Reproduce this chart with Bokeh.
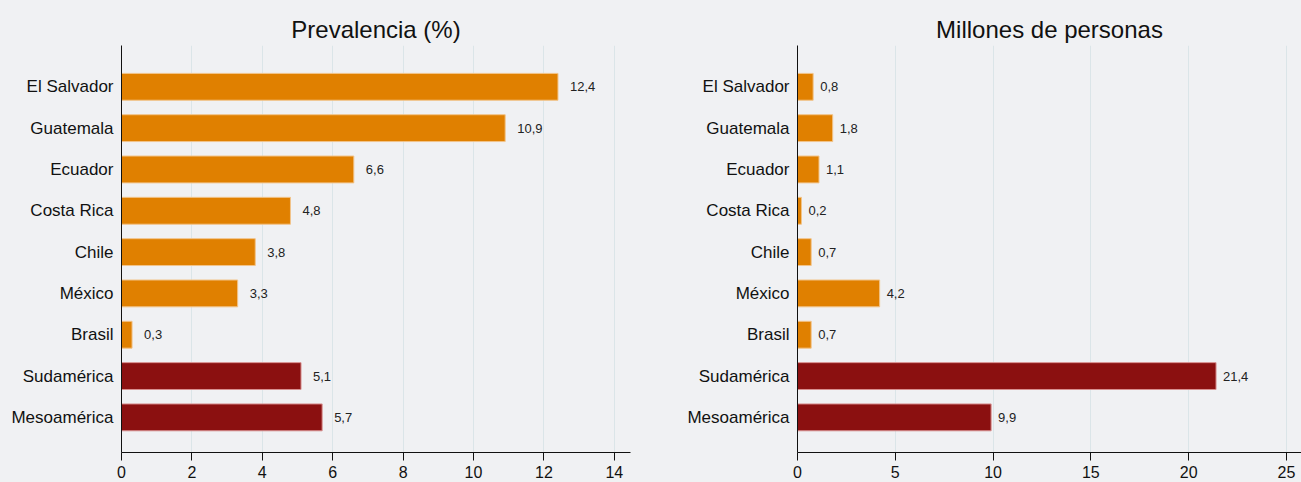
from bokeh.plotting import figure
from bokeh.layouts import row
from bokeh.models import Range1d, FixedTicker, ColumnDataSource
from bokeh.embed import file_html
from bokeh.resources import INLINE

categories = ["El Salvador", "Guatemala", "Ecuador", "Costa Rica", "Chile",
              "México", "Brasil", "Sudamérica", "Mesoamérica"]
prevalencia = [12.4, 10.9, 6.6, 4.8, 3.8, 3.3, 0.3, 5.1, 5.7]
millones = [0.8, 1.8, 1.1, 0.2, 0.7, 4.2, 0.7, 21.4, 9.9]
is_region = [False, False, False, False, False, False, False, True, True]
ticks_prev = [0, 2, 4, 6, 8, 10, 12, 14]
ticks_mill = [0, 5, 10, 15, 20, 25]

ORANGE = "#e08000"
DARKRED = "#8b1010"
BG = "#f0f1f3"
FONT = "Liberation Sans"

ypos = [len(categories) - 1 - i for i in range(len(categories))]
colors = [DARKRED if r else ORANGE for r in is_region]
edge = ["#d88f8f" if r else "#f2c48a" for r in is_region]


def fmt(v):
    return f"{v:.1f}".replace(".", ",")


def make(title, values, xmax, ticks, width, left, right, label_off):
    src = ColumnDataSource(dict(y=ypos, v=values, c=colors, e=edge,
                                lab=[fmt(v) for v in values]))
    p = figure(width=width, height=482, output_backend="svg", toolbar_location=None,
               x_range=Range1d(0, xmax), y_range=Range1d(-0.85, 9.0),
               min_border_left=left, min_border_right=right,
               min_border_top=45, min_border_bottom=30, title=title)
    p.background_fill_color = BG
    p.border_fill_color = BG
    p.outline_line_color = None
    p.title.align = "center"
    p.title.text_font = FONT
    p.title.text_font_size = "24px"
    p.title.text_font_style = "normal"
    p.title.text_color = "#111111"
    p.title.standoff = 6
    p.hbar(y="y", right="v", left=0, height=0.65, fill_color="c", line_color="e",
           line_width=1, source=src)
    p.text(x="v", y="y", text="lab", x_offset=label_off, text_baseline="middle",
           text_align="left", text_font_size="13px", text_color="#222222",
           text_font={"value": FONT}, source=src)
    p.xgrid.grid_line_color = "#dbe5e8"
    p.ygrid.grid_line_color = None
    p.xaxis.ticker = FixedTicker(ticks=ticks)
    p.xaxis.minor_tick_line_color = None
    p.xaxis.major_tick_out = 8
    p.xaxis.major_tick_in = 0
    p.xaxis.major_label_standoff = 5
    p.xaxis.major_label_text_font = FONT
    p.xaxis.major_label_text_font_size = "16px"
    p.xaxis.major_label_text_color = "#111111"
    p.xaxis.axis_line_color = "#111111"
    p.xaxis.major_tick_line_color = "#111111"
    p.yaxis.ticker = FixedTicker(ticks=ypos)
    p.yaxis.major_label_overrides = {y: c for y, c in zip(ypos, categories)}
    p.yaxis.major_tick_line_color = None
    p.yaxis.minor_tick_line_color = None
    p.yaxis.major_tick_in = 0
    p.yaxis.major_tick_out = 0
    p.yaxis.major_label_standoff = 8
    p.yaxis.major_label_text_font = FONT
    p.yaxis.major_label_text_font_size = "17px"
    p.yaxis.major_label_text_color = "#111111"
    p.yaxis.axis_line_color = "#111111"
    return p


p1 = make("Prevalencia (%)", prevalencia, 14.46, ticks_prev, 665, 121, 35, 12)
p2 = make("Millones de personas", millones, 25.77, ticks_mill, 636, 132, 0, 7)

layout = row(p1, p2)
page_template = """{% block preamble %}<style>html, body { background-color: #f0f1f3; }</style>{% endblock %}"""
open("out.html", "w").write(file_html(layout, INLINE, template=page_template))
